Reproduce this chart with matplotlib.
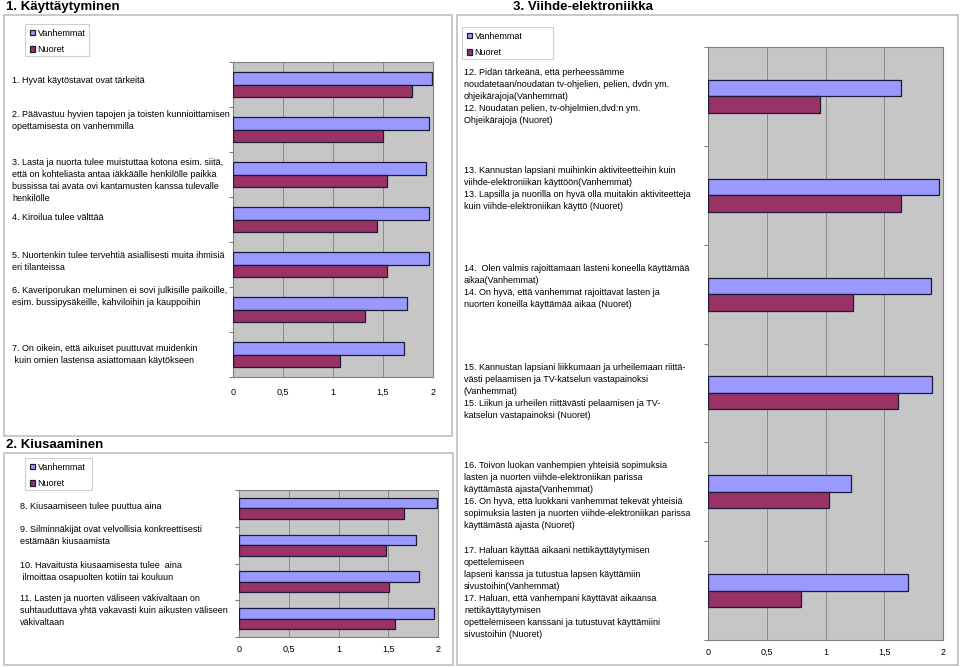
import matplotlib
matplotlib.use("Agg")
import matplotlib.pyplot as plt
import matplotlib.ticker as mt
from matplotlib.patches import Rectangle
import numpy as np

plt.rcParams["font.family"] = ["Liberation Sans", "DejaVu Sans"]

W, H = 960, 667

# 1. Käyttäytyminen
kay_labels = [
    "1. Hyvät käytöstavat ovat tärkeitä",
    "2. Päävastuu hyvien tapojen ja toisten kunnioittamisen\nopettamisesta on vanhemmilla",
    "3. Lasta ja nuorta tulee muistuttaa kotona esim. siitä,\nettä on kohteliasta antaa iäkkäälle henkilölle paikka\n"
    "bussissa tai avata ovi kantamusten kanssa tulevalle\nhenkilölle",
    "4. Kiroilua tulee välttää",
    "5. Nuortenkin tulee tervehtiä asiallisesti muita ihmisiä\neri tilanteissa",
    "6. Kaveriporukan meluminen ei sovi julkisille paikoille,\nesim. bussipysäkeille, kahviloihin ja kauppoihin",
    "7. On oikein, että aikuiset puuttuvat muidenkin\n kuin omien lastensa asiattomaan käytökseen",
]
kay_vanhemmat = [1.99, 1.96, 1.93, 1.96, 1.96, 1.74, 1.71]
kay_nuoret = [1.79, 1.50, 1.54, 1.44, 1.54, 1.32, 1.07]

# 2. Kiusaaminen
kius_labels = [
    "8. Kiusaamiseen tulee puuttua aina",
    "9. Silminnäkijät ovat velvollisia konkreettisesti\nestämään kiusaamista",
    "10. Havaitusta kiusaamisesta tulee  aina\n ilmoittaa osapuolten kotiin tai kouluun",
    "11. Lasten ja nuorten väliseen väkivaltaan on\nsuhtauduttava yhtä vakavasti kuin aikusten väliseen\nväkivaltaan",
]
kius_vanhemmat = [1.99, 1.78, 1.81, 1.96]
kius_nuoret = [1.66, 1.48, 1.51, 1.57]

# 3. Viihde-elektroniikka
viihde_labels = [
    "12. Pidän tärkeänä, että perheessämme\nnoudatetaan/noudatan tv-ohjelien, pelien, dvdn ym.\n"
    "ohjeikärajoja(Vanhemmat)\n12. Noudatan pelien, tv-ohjelmien,dvd:n ym.\nOhjeikärajoja (Nuoret)",
    "13. Kannustan lapsiani muihinkin aktiviteetteihin kuin\nviihde-elektroniikan käyttöön(Vanhemmat)\n"
    "13. Lapsilla ja nuorilla on hyvä olla muitakin aktiviteetteja\nkuin viihde-elektroniikan käyttö (Nuoret)",
    "14.  Olen valmis rajoittamaan lasteni koneella käyttämää\naikaa(Vanhemmat)\n"
    "14. On hyvä, että vanhemmat rajoittavat lasten ja\nnuorten koneilla käyttämää aikaa (Nuoret)",
    "15. Kannustan lapsiani liikkumaan ja urheilemaan riittä-\nvästi pelaamisen ja TV-katselun vastapainoksi\n"
    "(Vanhemmat)\n15. Liikun ja urheilen riittävästi pelaamisen ja TV-\nkatselun vastapainoksi (Nuoret)",
    "16. Toivon luokan vanhempien yhteisiä sopimuksia\nlasten ja nuorten viihde-elektroniikan parissa\n"
    "käyttämästä ajasta(Vanhemmat)\n16. On hyvä, että luokkani vanhemmat tekevät yhteisiä\n"
    "sopimuksia lasten ja nuorten viihde-elektroniikan parissa\nkäyttämästä ajasta (Nuoret)",
    "17. Haluan käyttää aikaani nettikäyttäytymisen\nopettelemiseen\nlapseni kanssa ja tutustua lapsen käyttämiin\n"
    "sivustoihin(Vanhemmat)\n17. Haluan, että vanhempani käyttävät aikaansa\nnettikäyttäytymisen\n"
    "opettelemiseen kanssani ja tutustuvat käyttämiini\nsivustoihin (Nuoret)",
]
viihde_vanhemmat = [1.64, 1.97, 1.90, 1.91, 1.22, 1.70]
viihde_nuoret = [0.95, 1.64, 1.23, 1.62, 1.03, 0.79]

series_names = ["Vanhemmat", "Nuoret"]
ticks = [0, 0.5, 1, 1.5, 2]

C_V = "#9999FF"
C_N = "#993366"
EDGE = "#1c1c3a"
FS = 6.5


def px_rect(x0, y0, x1, y1):
    return [x0 / W, 1 - y1 / H, (x1 - x0) / W, (y1 - y0) / H]


def frame(fig, x0, y0, x1, y1, color="#bfbfbf", lw=1.2):
    fig.patches.append(Rectangle((x0 / W, 1 - y1 / H), (x1 - x0) / W, (y1 - y0) / H,
                                 transform=fig.transFigure, fill=False,
                                 edgecolor=color, linewidth=lw))


def panel(fig, plot_px, labels, vals_v, vals_n, bar_h, label_x, label_y, legend_px, tick_pad):
    ax = fig.add_axes(px_rect(*plot_px))
    y = np.arange(len(labels))
    bv = ax.barh(y - bar_h / 2, vals_v, height=bar_h, color=C_V, edgecolor=EDGE,
                 linewidth=0.9, zorder=3, label=series_names[0])
    bn = ax.barh(y + bar_h / 2, vals_n, height=bar_h, color=C_N, edgecolor=EDGE,
                 linewidth=0.9, zorder=3, label=series_names[1])
    ax.set_xlim(0, 2)
    ax.set_ylim(len(labels) - 0.5, -0.5)
    ax.set_facecolor("#c6c6c6")
    ax.set_xticks(ticks)
    ax.xaxis.set_major_formatter(mt.FuncFormatter(lambda v, p: ("%g" % v).replace(".", ",")))
    ax.tick_params(axis="x", length=0, labelsize=FS, pad=tick_pad)
    for t in ax.get_xticklabels():
        t.set_va("baseline")
    ax.set_yticks([])
    ax.set_yticks(np.arange(len(labels) + 1) - 0.5, minor=True)
    ax.tick_params(axis="y", which="minor", length=3, color="#808080", width=0.8)
    ax.grid(axis="x", color="#8a8a8a", linewidth=0.7, zorder=0)
    for s in ax.spines.values():
        s.set_color("#808080")
        s.set_linewidth(0.8)

    for lab, ly in zip(labels, label_y):
        fig.text(label_x / W, 1 - (ly - 4) / H, lab, fontsize=FS, va="top",
                 ha="left", linespacing=1.42, zorder=5)

    lx0, ly0, lx1, ly1 = legend_px
    frame(fig, lx0, ly0, lx1, ly1, color="#cfcfcf", lw=0.8)
    fig.legend([bv, bn], series_names, loc="upper left",
               bbox_to_anchor=((lx0 + 1) / W, 1 - (ly0 + 1) / H), frameon=False,
               fontsize=FS, handlelength=0.6, handleheight=0.6, handletextpad=0.3,
               labelspacing=0.85, borderpad=0.4, borderaxespad=0)
    return ax


fig = plt.figure(figsize=(W / 100, H / 100), dpi=100)

# frames
frame(fig, 4, 15, 452, 436)
frame(fig, 4, 453, 453, 665)
frame(fig, 457, 15, 958, 665)

fig.text(6 / W, 1 - 7 / H, "1. Käyttäytyminen", fontsize=9.5, fontweight="bold", va="center")
fig.text(6 / W, 1 - 445 / H, "2. Kiusaaminen", fontsize=9.5, fontweight="bold", va="center")
fig.text(583 / W, 1 - 7 / H, "3. Viihde-elektroniikka", fontsize=9.5, fontweight="bold",
         va="center", ha="center")

panel(fig, (233, 62, 433, 377), kay_labels, kay_vanhemmat, kay_nuoret, 0.267,
      12, [80, 114, 162, 217, 255, 290, 348], (25, 24, 89, 56), 13)
panel(fig, (239, 490, 438, 637), kius_labels, kius_vanhemmat, kius_nuoret, 0.285,
      20, [506, 529, 565, 598], (25, 458, 92, 490), 11)
panel(fig, (708, 47, 943, 640), viihde_labels, viihde_vanhemmat, viihde_nuoret, 0.167,
      464, [72, 170, 268, 367, 465, 550], (462, 27, 553, 59), 11)

fig.savefig("out.png", dpi=100)
